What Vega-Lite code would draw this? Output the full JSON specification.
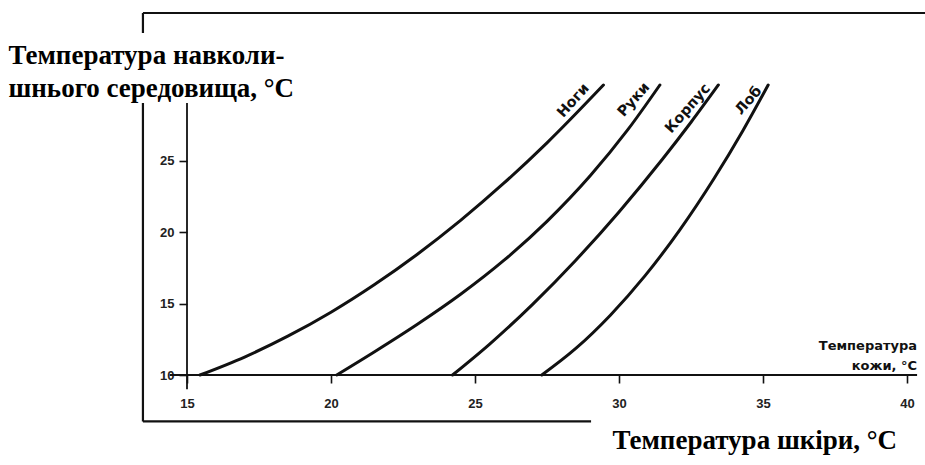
{
  "$schema": "https://vega.github.io/schema/vega-lite/v6.json",
  "width": 720,
  "height": 362,
  "autosize": {"type": "none"},
  "padding": {"left": 187, "top": 13, "right": 18, "bottom": 90},
  "background": "white",
  "config": {"view": {"stroke": null}},
  "encoding": {
    "x": {
      "field": "x", "type": "quantitative",
      "scale": {"domain": [15, 40], "nice": false, "zero": false},
      "axis": {
        "values": [15, 20, 25, 30, 35, 40],
        "domain": false, "grid": false,
        "ticks": true, "tickSize": 8, "tickWidth": 1.6, "tickColor": "#111",
        "labelFont": "Liberation Sans", "labelFontSize": 13, "labelFontWeight": "bold", "labelColor": "#222",
        "labelPadding": 14, "labelFlush": false,
        "title": "Температура шкіри, °C",
        "titleFont": "Liberation Serif", "titleFontSize": 27, "titleFontWeight": "bold", "titleColor": "#000",
        "titleAlign": "left", "titleBaseline": "alphabetic", "titleAnchor": "start",
        "titleX": 425, "titleY": 73
      }
    },
    "y": {
      "field": "y", "type": "quantitative",
      "scale": {"domain": [10, 35.35], "nice": false, "zero": false},
      "axis": {
        "values": [10, 15, 20, 25],
        "domain": false, "grid": false,
        "ticks": true, "tickSize": 8, "tickWidth": 1.6, "tickColor": "#111",
        "labelFont": "Liberation Sans", "labelFontSize": 13, "labelFontWeight": "bold", "labelColor": "#222",
        "labelPadding": 5, "labelFlush": false,
        "title": ["Температура навколи-", "шнього середовища, °C"],
        "titleFont": "Liberation Serif", "titleFontSize": 27, "titleFontWeight": "bold", "titleColor": "#000",
        "titleAngle": 0, "titleAlign": "left", "titleBaseline": "alphabetic", "titleAnchor": "start",
        "titleLineHeight": 33,
        "titleX": -179, "titleY": 50
      }
    }
  },
  "layer": [
    {
      "data": {"values": [
        {"x": 13.47, "x2": 13.47, "y": 33.95, "y2": 35.35},
        {"x": 13.47, "x2": 13.47, "y": 6.75, "y2": 29.05},
        {"x": 13.47, "x2": 41.5, "y": 35.35, "y2": 35.35},
        {"x": 13.47, "x2": 29.03, "y": 6.75, "y2": 6.75}
      ]},
      "mark": {"type": "rule", "color": "#111", "strokeWidth": 2.2},
      "encoding": {"x2": {"field": "x2"}, "y2": {"field": "y2"}}
    },
    {
      "data": {"values": [
        {"x": 14.4, "x2": 40.35, "y": 10, "y2": 10},
        {"x": 15, "x2": 15, "y": 9, "y2": 29.05}
      ]},
      "mark": {"type": "rule", "color": "#111", "strokeWidth": 1.8},
      "encoding": {"x2": {"field": "x2"}, "y2": {"field": "y2"}}
    },
    {
      "data": {"values": [
        {"series": "Ноги", "x": 15.45, "y": 10},
        {"series": "Ноги", "x": 17.0, "y": 11.26},
        {"series": "Ноги", "x": 18.5, "y": 12.72},
        {"series": "Ноги", "x": 20.0, "y": 14.4},
        {"series": "Ноги", "x": 21.5, "y": 16.32},
        {"series": "Ноги", "x": 23.0, "y": 18.46},
        {"series": "Ноги", "x": 24.5, "y": 20.83},
        {"series": "Ноги", "x": 26.0, "y": 23.43},
        {"series": "Ноги", "x": 27.5, "y": 26.26},
        {"series": "Ноги", "x": 29.46, "y": 30.31},
        {"series": "Руки", "x": 20.2, "y": 10},
        {"series": "Руки", "x": 21.5, "y": 11.61},
        {"series": "Руки", "x": 23.0, "y": 13.55},
        {"series": "Руки", "x": 24.5, "y": 15.65},
        {"series": "Руки", "x": 26.0, "y": 18.02},
        {"series": "Руки", "x": 27.5, "y": 20.76},
        {"series": "Руки", "x": 29.0, "y": 23.95},
        {"series": "Руки", "x": 30.3, "y": 27.16},
        {"series": "Руки", "x": 31.42, "y": 30.31},
        {"series": "Корпус", "x": 24.22, "y": 10},
        {"series": "Корпус", "x": 25.5, "y": 12.15},
        {"series": "Корпус", "x": 27.0, "y": 14.95},
        {"series": "Корпус", "x": 28.5, "y": 18.04},
        {"series": "Корпус", "x": 30.0, "y": 21.42},
        {"series": "Корпус", "x": 31.5, "y": 25.09},
        {"series": "Корпус", "x": 32.5, "y": 27.7},
        {"series": "Корпус", "x": 33.45, "y": 30.31},
        {"series": "Лоб", "x": 27.32, "y": 10},
        {"series": "Лоб", "x": 28.5, "y": 11.86},
        {"series": "Лоб", "x": 29.7, "y": 14.19},
        {"series": "Лоб", "x": 30.9, "y": 16.94},
        {"series": "Лоб", "x": 32.1, "y": 20.13},
        {"series": "Лоб", "x": 33.3, "y": 23.76},
        {"series": "Лоб", "x": 34.3, "y": 27.11},
        {"series": "Лоб", "x": 35.18, "y": 30.31}
      ]},
      "mark": {"type": "line", "color": "#111", "strokeWidth": 3, "interpolate": "monotone", "strokeCap": "round"},
      "encoding": {"detail": {"field": "series"}}
    },
    {
      "data": {"values": [
        {"series": "Ноги", "x": 28.42, "y": 29.2},
        {"series": "Руки", "x": 30.52, "y": 29.26},
        {"series": "Корпус", "x": 32.4, "y": 28.65},
        {"series": "Лоб", "x": 34.51, "y": 29.2}
      ]},
      "mark": {"type": "text", "font": "DejaVu Sans", "fontSize": 14.5, "fontWeight": "bold", "color": "#111", "align": "center", "baseline": "middle"},
      "encoding": {
        "text": {"field": "series"},
        "angle": {"field": "series", "type": "nominal", "scale": {"domain": ["Ноги", "Руки", "Корпус", "Лоб"], "range": [-48, -49, -55, -60]}, "legend": null}
      }
    },
    {
      "data": {"values": [
        {"x": 40.35, "y": 11.75, "label": "Температура"},
        {"x": 40.35, "y": 10.35, "label": "кожи, °C"}
      ]},
      "mark": {"type": "text", "font": "DejaVu Sans", "fontSize": 13, "fontWeight": "bold", "color": "#111", "align": "right", "baseline": "alphabetic"},
      "encoding": {"text": {"field": "label"}}
    }
  ]
}
